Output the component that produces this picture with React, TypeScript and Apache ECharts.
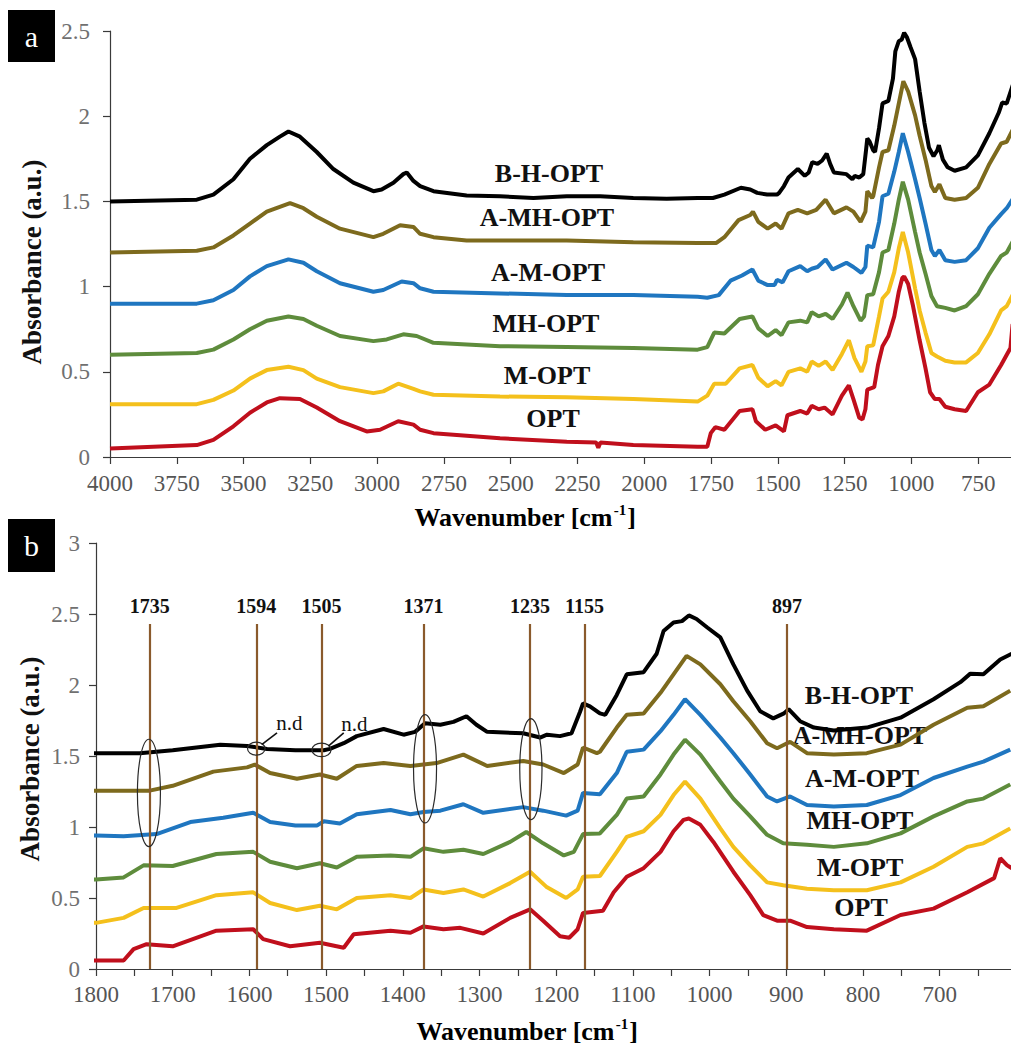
import React, { useEffect, useRef } from "react";
import * as echarts from "echarts";

// ---------- data: [wavenumber (cm-1), absorbance (a.u.)] ----------
const OPT: number[][] = [
  [4000, 0.05], [3675, 0.07], [3613, 0.1], [3538, 0.18], [3476, 0.26], [3413, 0.32], [3364, 0.345], [3289, 0.34],
  [3226, 0.29], [3139, 0.21], [3039, 0.15], [2989, 0.16], [2921, 0.21], [2864, 0.19], [2839, 0.16], [2789, 0.14],
  [2540, 0.11], [2290, 0.09], [2180, 0.085], [2172, 0.055], [2164, 0.085], [2041, 0.07], [1800, 0.06], [1764, 0.06],
  [1751, 0.14], [1734, 0.175], [1700, 0.16], [1643, 0.27], [1595, 0.28], [1582, 0.21], [1547, 0.16], [1508, 0.185],
  [1477, 0.15], [1464, 0.245], [1416, 0.27], [1390, 0.255], [1373, 0.3], [1347, 0.28], [1325, 0.29], [1295, 0.25],
  [1260, 0.36], [1234, 0.42], [1217, 0.34], [1195, 0.23], [1183, 0.22], [1172, 0.28], [1165, 0.395], [1139, 0.41],
  [1125, 0.54], [1108, 0.65], [1086, 0.71], [1064, 0.825], [1047, 0.97], [1034, 1.05], [1027, 1.06], [1012, 1.015],
  [995, 0.895], [969, 0.685], [947, 0.52], [930, 0.38], [912, 0.34], [895, 0.34], [873, 0.295], [838, 0.28],
  [795, 0.27], [751, 0.38], [708, 0.425], [664, 0.54], [629, 0.64], [621, 0.78], [612, 0.73], [606, 0.71],
];
const M_OPT: number[][] = [
  [4000, 0.31], [3675, 0.31], [3613, 0.335], [3538, 0.39], [3476, 0.46], [3413, 0.51], [3332, 0.53], [3276, 0.51],
  [3226, 0.46], [3139, 0.41], [3014, 0.375], [2977, 0.385], [2921, 0.43], [2864, 0.4], [2839, 0.385], [2789, 0.365],
  [2540, 0.355], [2290, 0.35], [2041, 0.34], [1800, 0.325], [1764, 0.36], [1738, 0.43], [1695, 0.43], [1643, 0.52],
  [1595, 0.54], [1573, 0.465], [1538, 0.415], [1508, 0.445], [1486, 0.42], [1460, 0.5], [1416, 0.52], [1390, 0.5],
  [1373, 0.56], [1347, 0.535], [1321, 0.56], [1295, 0.51], [1260, 0.605], [1234, 0.685], [1213, 0.58], [1187, 0.5],
  [1172, 0.56], [1165, 0.65], [1143, 0.655], [1121, 0.825], [1108, 0.93], [1086, 0.97], [1064, 1.085], [1047, 1.225],
  [1032, 1.32], [1012, 1.2], [986, 0.99], [969, 0.86], [947, 0.73], [925, 0.61], [904, 0.59], [873, 0.565],
  [838, 0.555], [795, 0.555], [751, 0.61], [708, 0.72], [664, 0.86], [643, 0.885], [608, 0.99],
];
const MH_OPT: number[][] = [
  [4000, 0.6], [3675, 0.61], [3613, 0.63], [3538, 0.69], [3476, 0.75], [3413, 0.8], [3332, 0.825], [3276, 0.81],
  [3226, 0.77], [3139, 0.71], [3014, 0.68], [2964, 0.69], [2902, 0.72], [2852, 0.71], [2789, 0.67], [2540, 0.65],
  [2290, 0.645], [2041, 0.64], [1800, 0.63], [1764, 0.645], [1738, 0.73], [1700, 0.725], [1643, 0.81], [1595, 0.825],
  [1573, 0.755], [1538, 0.71], [1508, 0.745], [1486, 0.715], [1460, 0.79], [1416, 0.8], [1390, 0.79], [1373, 0.85],
  [1347, 0.825], [1321, 0.84], [1295, 0.81], [1260, 0.895], [1239, 0.965], [1217, 0.885], [1190, 0.8], [1177, 0.825],
  [1165, 0.95], [1143, 0.955], [1121, 1.085], [1108, 1.2], [1086, 1.215], [1064, 1.37], [1047, 1.51], [1032, 1.615],
  [1012, 1.51], [986, 1.32], [969, 1.2], [947, 1.075], [925, 0.945], [904, 0.885], [873, 0.875], [838, 0.86],
  [795, 0.885], [751, 0.955], [708, 1.075], [664, 1.18], [643, 1.2], [608, 1.3],
];
const A_M_OPT: number[][] = [
  [4000, 0.9], [3675, 0.9], [3613, 0.92], [3538, 0.98], [3476, 1.06], [3413, 1.12], [3332, 1.16], [3276, 1.14],
  [3226, 1.09], [3139, 1.02], [3014, 0.97], [2977, 0.98], [2908, 1.03], [2864, 1.02], [2839, 0.99], [2789, 0.97],
  [2540, 0.96], [2290, 0.95], [2041, 0.95], [1800, 0.94], [1764, 0.935], [1721, 0.95], [1677, 1.035], [1634, 1.065],
  [1595, 1.1], [1573, 1.035], [1540, 1.01], [1512, 1.01], [1503, 1.04], [1482, 1.025], [1460, 1.09], [1416, 1.12],
  [1390, 1.09], [1373, 1.105], [1351, 1.115], [1321, 1.16], [1295, 1.1], [1243, 1.14], [1217, 1.115], [1187, 1.08],
  [1172, 1.115], [1165, 1.24], [1143, 1.23], [1121, 1.38], [1108, 1.53], [1086, 1.545], [1064, 1.675], [1047, 1.79],
  [1032, 1.9], [1012, 1.79], [986, 1.63], [969, 1.52], [947, 1.37], [925, 1.215], [912, 1.18], [895, 1.215],
  [873, 1.155], [838, 1.145], [795, 1.155], [751, 1.225], [708, 1.345], [664, 1.425], [643, 1.46], [608, 1.545],
];
const A_MH_OPT: number[][] = [
  [4000, 1.2], [3675, 1.21], [3613, 1.23], [3538, 1.3], [3476, 1.37], [3413, 1.44], [3326, 1.49], [3276, 1.46],
  [3226, 1.41], [3139, 1.34], [3014, 1.29], [2977, 1.31], [2914, 1.36], [2864, 1.35], [2839, 1.31], [2789, 1.29],
  [2665, 1.27], [2540, 1.27], [2290, 1.27], [2041, 1.26], [1800, 1.256], [1730, 1.256], [1700, 1.29], [1647, 1.39],
  [1603, 1.42], [1593, 1.44], [1573, 1.38], [1538, 1.34], [1508, 1.37], [1486, 1.34], [1460, 1.43], [1425, 1.45],
  [1390, 1.43], [1356, 1.45], [1321, 1.51], [1290, 1.43], [1243, 1.465], [1217, 1.44], [1190, 1.38], [1172, 1.44],
  [1165, 1.56], [1147, 1.52], [1143, 1.53], [1121, 1.7], [1108, 1.79], [1086, 1.8], [1064, 1.945], [1047, 2.075],
  [1030, 2.205], [1012, 2.145], [986, 2.005], [969, 1.885], [947, 1.745], [925, 1.59], [912, 1.555], [895, 1.6],
  [873, 1.52], [838, 1.51], [795, 1.52], [751, 1.58], [708, 1.72], [664, 1.84], [643, 1.85], [608, 1.96],
];
const B_H_OPT: number[][] = [
  [4000, 1.5], [3675, 1.51], [3613, 1.54], [3538, 1.63], [3476, 1.75], [3413, 1.83], [3364, 1.88], [3332, 1.91],
  [3289, 1.88], [3226, 1.79], [3164, 1.69], [3089, 1.61], [3014, 1.56], [2983, 1.57], [2939, 1.61], [2902, 1.66],
  [2889, 1.67], [2864, 1.62], [2839, 1.59], [2789, 1.56], [2665, 1.535], [2540, 1.53], [2415, 1.52], [2290, 1.53],
  [2165, 1.53], [2041, 1.52], [1916, 1.515], [1800, 1.52], [1743, 1.52], [1700, 1.54], [1638, 1.58], [1603, 1.57],
  [1577, 1.55], [1540, 1.54], [1503, 1.54], [1495, 1.55], [1477, 1.59], [1460, 1.64], [1425, 1.69], [1399, 1.65],
  [1384, 1.67], [1371, 1.73], [1351, 1.72], [1334, 1.74], [1317, 1.78], [1304, 1.72], [1290, 1.67], [1243, 1.66],
  [1221, 1.63], [1212, 1.65], [1195, 1.64], [1180, 1.66], [1169, 1.81], [1165, 1.87], [1156, 1.85], [1143, 1.8],
  [1136, 1.79], [1121, 1.93], [1108, 2.075], [1086, 2.09], [1069, 2.22], [1060, 2.38], [1047, 2.44], [1036, 2.45],
  [1027, 2.49], [1017, 2.465], [1003, 2.405], [986, 2.335], [969, 2.145], [951, 1.96], [934, 1.815], [917, 1.765],
  [903, 1.8], [897, 1.83], [882, 1.745], [864, 1.7], [838, 1.68], [795, 1.7], [751, 1.77], [708, 1.9], [673, 2.02],
  [660, 2.08], [643, 2.075], [621, 2.18], [606, 2.22],
];

const SERIES_NAMES = ["OPT", "M-OPT", "MH-OPT", "A-M-OPT", "A-MH-OPT", "B-H-OPT"];
const SERIES_DATA = [OPT, M_OPT, MH_OPT, A_M_OPT, A_MH_OPT, B_H_OPT];
const SERIES_COLORS = ["#c00f1c", "#f4c01c", "#5e8c3c", "#1f76c0", "#7d6a1d", "#000000"];

const X_TICKS_A = [4000, 3750, 3500, 3250, 3000, 2750, 2500, 2250, 2000, 1750, 1500, 1250, 1000, 750];
const X_TICKS_B = [1800, 1750, 1700, 1650, 1600, 1550, 1500, 1450, 1400, 1350, 1300, 1250, 1200, 1150, 1100, 1050, 1000, 950, 900, 850, 800, 750, 700, 650];
const X_LABELS_B = [1800, 1700, 1600, 1500, 1400, 1300, 1200, 1100, 1000, 900, 800, 700];
const Y_TICKS_A = [0, 0.5, 1, 1.5, 2, 2.5];
const Y_TICKS_B = [0, 0.5, 1, 1.5, 2, 2.5, 3];

// band markers in panel b: label and drawn position (cm-1)
const MARKER_LABELS = ["1735", "1594", "1505", "1371", "1235", "1155", "897"];
const MARKER_POS = [1730, 1591, 1506, 1373, 1234, 1163, 899];
const MARKER_TOP = 2.43;

// annotations in panel b data units: centre x, centre y, half width (cm-1), half height (a.u.)
const ELLIPSES = [
  [1731, 1.24, 15, 0.378],
  [1371, 1.41, 15, 0.381],
  [1233, 1.407, 14.5, 0.356],
  [1591, 1.552, 11.5, 0.046],
  [1506, 1.543, 12.4, 0.048],
];
// n.d notes: text x, text y, leader start x,y, leader end x,y
const ND_NOTES = [
  [1548, 1.733, 1584, 1.58, 1564, 1.663],
  [1463, 1.723, 1497, 1.57, 1477, 1.663],
];

const FONT = "'Liberation Serif', 'Times New Roman', Times, serif";

// label layout (pixels)
const LABELS_A = [[549, 173], [547, 217], [548, 272], [546, 323], [547, 375], [553, 418]];
const LABELS_B = [[859, 695], [860, 735], [862, 778], [860, 820], [860, 867], [861, 907]];
const LABEL_ORDER = ["B-H-OPT", "A-MH-OPT", "A-M-OPT", "MH-OPT", "M-OPT", "OPT"];

function App() {
  const ref = useRef<HTMLDivElement>(null);

  useEffect(() => {
    if (!ref.current) return;
    const chart = echarts.init(ref.current, null, { renderer: "svg" });

    const axisLine = { show: true, lineStyle: { color: "#3a3a3a", width: 1.2 } };
    const axisTick = { show: true, length: 7, inside: false, lineStyle: { color: "#3a3a3a", width: 1.2 } };

    const series: any[] = [];
    [0, 1].forEach((g) => {
      SERIES_DATA.forEach((d, i) => {
        const s: any = {
          type: "line",
          name: SERIES_NAMES[i],
          xAxisIndex: g,
          yAxisIndex: g,
          data: d,
          showSymbol: false,
          symbol: "none",
          smooth: false,
          clip: true,
          lineStyle: { color: SERIES_COLORS[i], width: 4 },
          itemStyle: { color: SERIES_COLORS[i] },
          emphasis: { disabled: true },
          silent: true,
        };
        if (g === 1 && i === 0) {
          s.markLine = {
            silent: true,
            symbol: "none",
            animation: false,
            lineStyle: { color: "#8a5a2c", width: 2.2, type: "solid" },
            label: {
              show: true,
              position: "end",
              formatter: "{b}",
              fontFamily: FONT,
              fontWeight: "bold",
              fontSize: 20,
              color: "#111",
              distance: 8,
            },
            emphasis: { disabled: true },
            data: MARKER_POS.map((p, k) => [
              { name: MARKER_LABELS[k], coord: [p, 0] },
              { coord: [p, MARKER_TOP] },
            ]),
          };
        }
        series.push(s);
      });
    });

    chart.setOption({
      animation: false,
      backgroundColor: "#ffffff",
      textStyle: { fontFamily: FONT },
      grid: [
        { left: 110, top: 31, width: 901, height: 426, containLabel: false },
        { left: 96, top: 543, width: 915, height: 426, containLabel: false },
      ],
      xAxis: [
        {
          type: "value",
          gridIndex: 0,
          inverse: true,
          min: 627,
          max: 4000,
          axisLine,
          axisTick: { ...axisTick, customValues: X_TICKS_A },
          axisLabel: { show: false },
          splitLine: { show: false },
        },
        {
          type: "value",
          gridIndex: 1,
          inverse: true,
          min: 607,
          max: 1800,
          axisLine,
          axisTick: { ...axisTick, customValues: X_TICKS_B },
          axisLabel: { show: false },
          splitLine: { show: false },
        },
      ],
      yAxis: [
        {
          type: "value",
          gridIndex: 0,
          min: 0,
          max: 2.5,
          interval: 0.5,
          axisLine,
          axisTick,
          axisLabel: { show: false },
          splitLine: { show: false },
        },
        {
          type: "value",
          gridIndex: 1,
          min: 0,
          max: 3,
          interval: 0.5,
          axisLine,
          axisTick,
          axisLabel: { show: false },
          splitLine: { show: false },
        },
      ],
      series,
    });

    const toPxG = (g: number, x: number, y: number) =>
      chart.convertToPixel({ gridIndex: g } as any, [x, y]) as number[];
    const toPx = (x: number, y: number) => toPxG(1, x, y);

    const titleRich = {
      t: { fontFamily: FONT, fontWeight: "bold", fontSize: 26, color: "#111", lineHeight: 30 },
      s: { fontFamily: FONT, fontWeight: "bold", fontSize: 15, color: "#111", verticalAlign: "top", lineHeight: 30, padding: [0, 1, 0, 1] },
    };

    const graphics: any[] = [];
    const tickText = (x: number, y: number, text: string, align: string, color: string) => ({
      type: "text",
      x,
      y,
      style: { text, fontFamily: FONT, fontSize: 23, fill: color, align, verticalAlign: "middle" },
    });

    // tick labels, positioned through the axes
    const yMinA = 0;
    const xMaxA = 4000;
    X_TICKS_A.forEach((v) => {
      const p = toPxG(0, v, yMinA);
      graphics.push(tickText(p[0], p[1] + 26, String(v), "center", "#555"));
    });
    Y_TICKS_A.forEach((v) => {
      const p = toPxG(0, xMaxA, v);
      graphics.push(tickText(p[0] - 20, p[1], String(v), "right", "#707070"));
    });
    X_LABELS_B.forEach((v) => {
      const p = toPxG(1, v, 0);
      graphics.push(tickText(p[0], p[1] + 25, String(v), "center", "#555"));
    });
    Y_TICKS_B.forEach((v) => {
      const p = toPxG(1, 1800, v);
      graphics.push(tickText(p[0] - 16, p[1], String(v), "right", "#707070"));
    });

    // panel letters
    [["a", 10, 52], ["b", 519, 53]].forEach(([ch, top, h]: any) => {
      graphics.push({ type: "rect", shape: { x: 8, y: top, width: 47, height: h }, style: { fill: "#000" } });
      graphics.push({
        type: "text",
        x: 31.5,
        y: top + h / 2,
        style: { text: ch, fontFamily: FONT, fontSize: 30, fill: "#fff", align: "center", verticalAlign: "middle" },
      });
    });
    // axis titles
    [[525, 517], [527, 1031]].forEach(([x, y]) => {
      graphics.push({
        type: "text",
        x,
        y,
        style: { text: "{t|Wavenumber [cm}{s|-1}{t|]}", rich: titleRich, align: "center", verticalAlign: "middle" },
      });
    });
    [[32, 262], [30, 759]].forEach(([x, y]) => {
      graphics.push({
        type: "text",
        x,
        y,
        rotation: Math.PI / 2,
        style: {
          text: "Absorbance (a.u.)",
          fontFamily: FONT,
          fontWeight: "bold",
          fontSize: 27,
          fill: "#111",
          align: "center",
          verticalAlign: "middle",
        },
      });
    });
    // sample labels
    [LABELS_A, LABELS_B].forEach((set) => {
      set.forEach(([x, y], k) => {
        graphics.push({
          type: "text",
          x,
          y,
          z: 1,
          style: {
            text: LABEL_ORDER[k],
            fontFamily: FONT,
            fontWeight: "bold",
            fontSize: 26,
            fill: "#111",
            align: "center",
            verticalAlign: "middle",
          },
        });
      });
    });
    // ellipses
    ELLIPSES.forEach(([cx, cy, rx, ry]) => {
      const c = toPx(cx, cy);
      const e = toPx(cx - rx, cy + ry);
      graphics.push({
        type: "ellipse",
        z: 100,
        shape: { cx: c[0], cy: c[1], rx: Math.abs(e[0] - c[0]), ry: Math.abs(c[1] - e[1]) },
        style: { fill: "none", stroke: "#2b2b2b", lineWidth: 1.2 },
      });
    });
    // n.d notes
    ND_NOTES.forEach(([tx, ty, x1, y1, x2, y2]) => {
      const t = toPx(tx, ty);
      const a = toPx(x1, y1);
      const b = toPx(x2, y2);
      graphics.push({
        type: "line",
        z: 100,
        shape: { x1: a[0], y1: a[1], x2: b[0], y2: b[1] },
        style: { stroke: "#111", lineWidth: 1.6 },
      });
      graphics.push({
        type: "text",
        z: 100,
        x: t[0],
        y: t[1],
        style: { text: "n.d", fontFamily: FONT, fontSize: 21, fill: "#111", align: "center", verticalAlign: "middle" },
      });
    });

    chart.setOption({ graphic: graphics });

    return () => chart.dispose();
  }, []);

  return (
    <div
      ref={ref}
      style={{ position: "absolute", left: 0, top: 0, width: 1011, height: 1050, background: "#fff" }}
    />
  );
}

export default App;
